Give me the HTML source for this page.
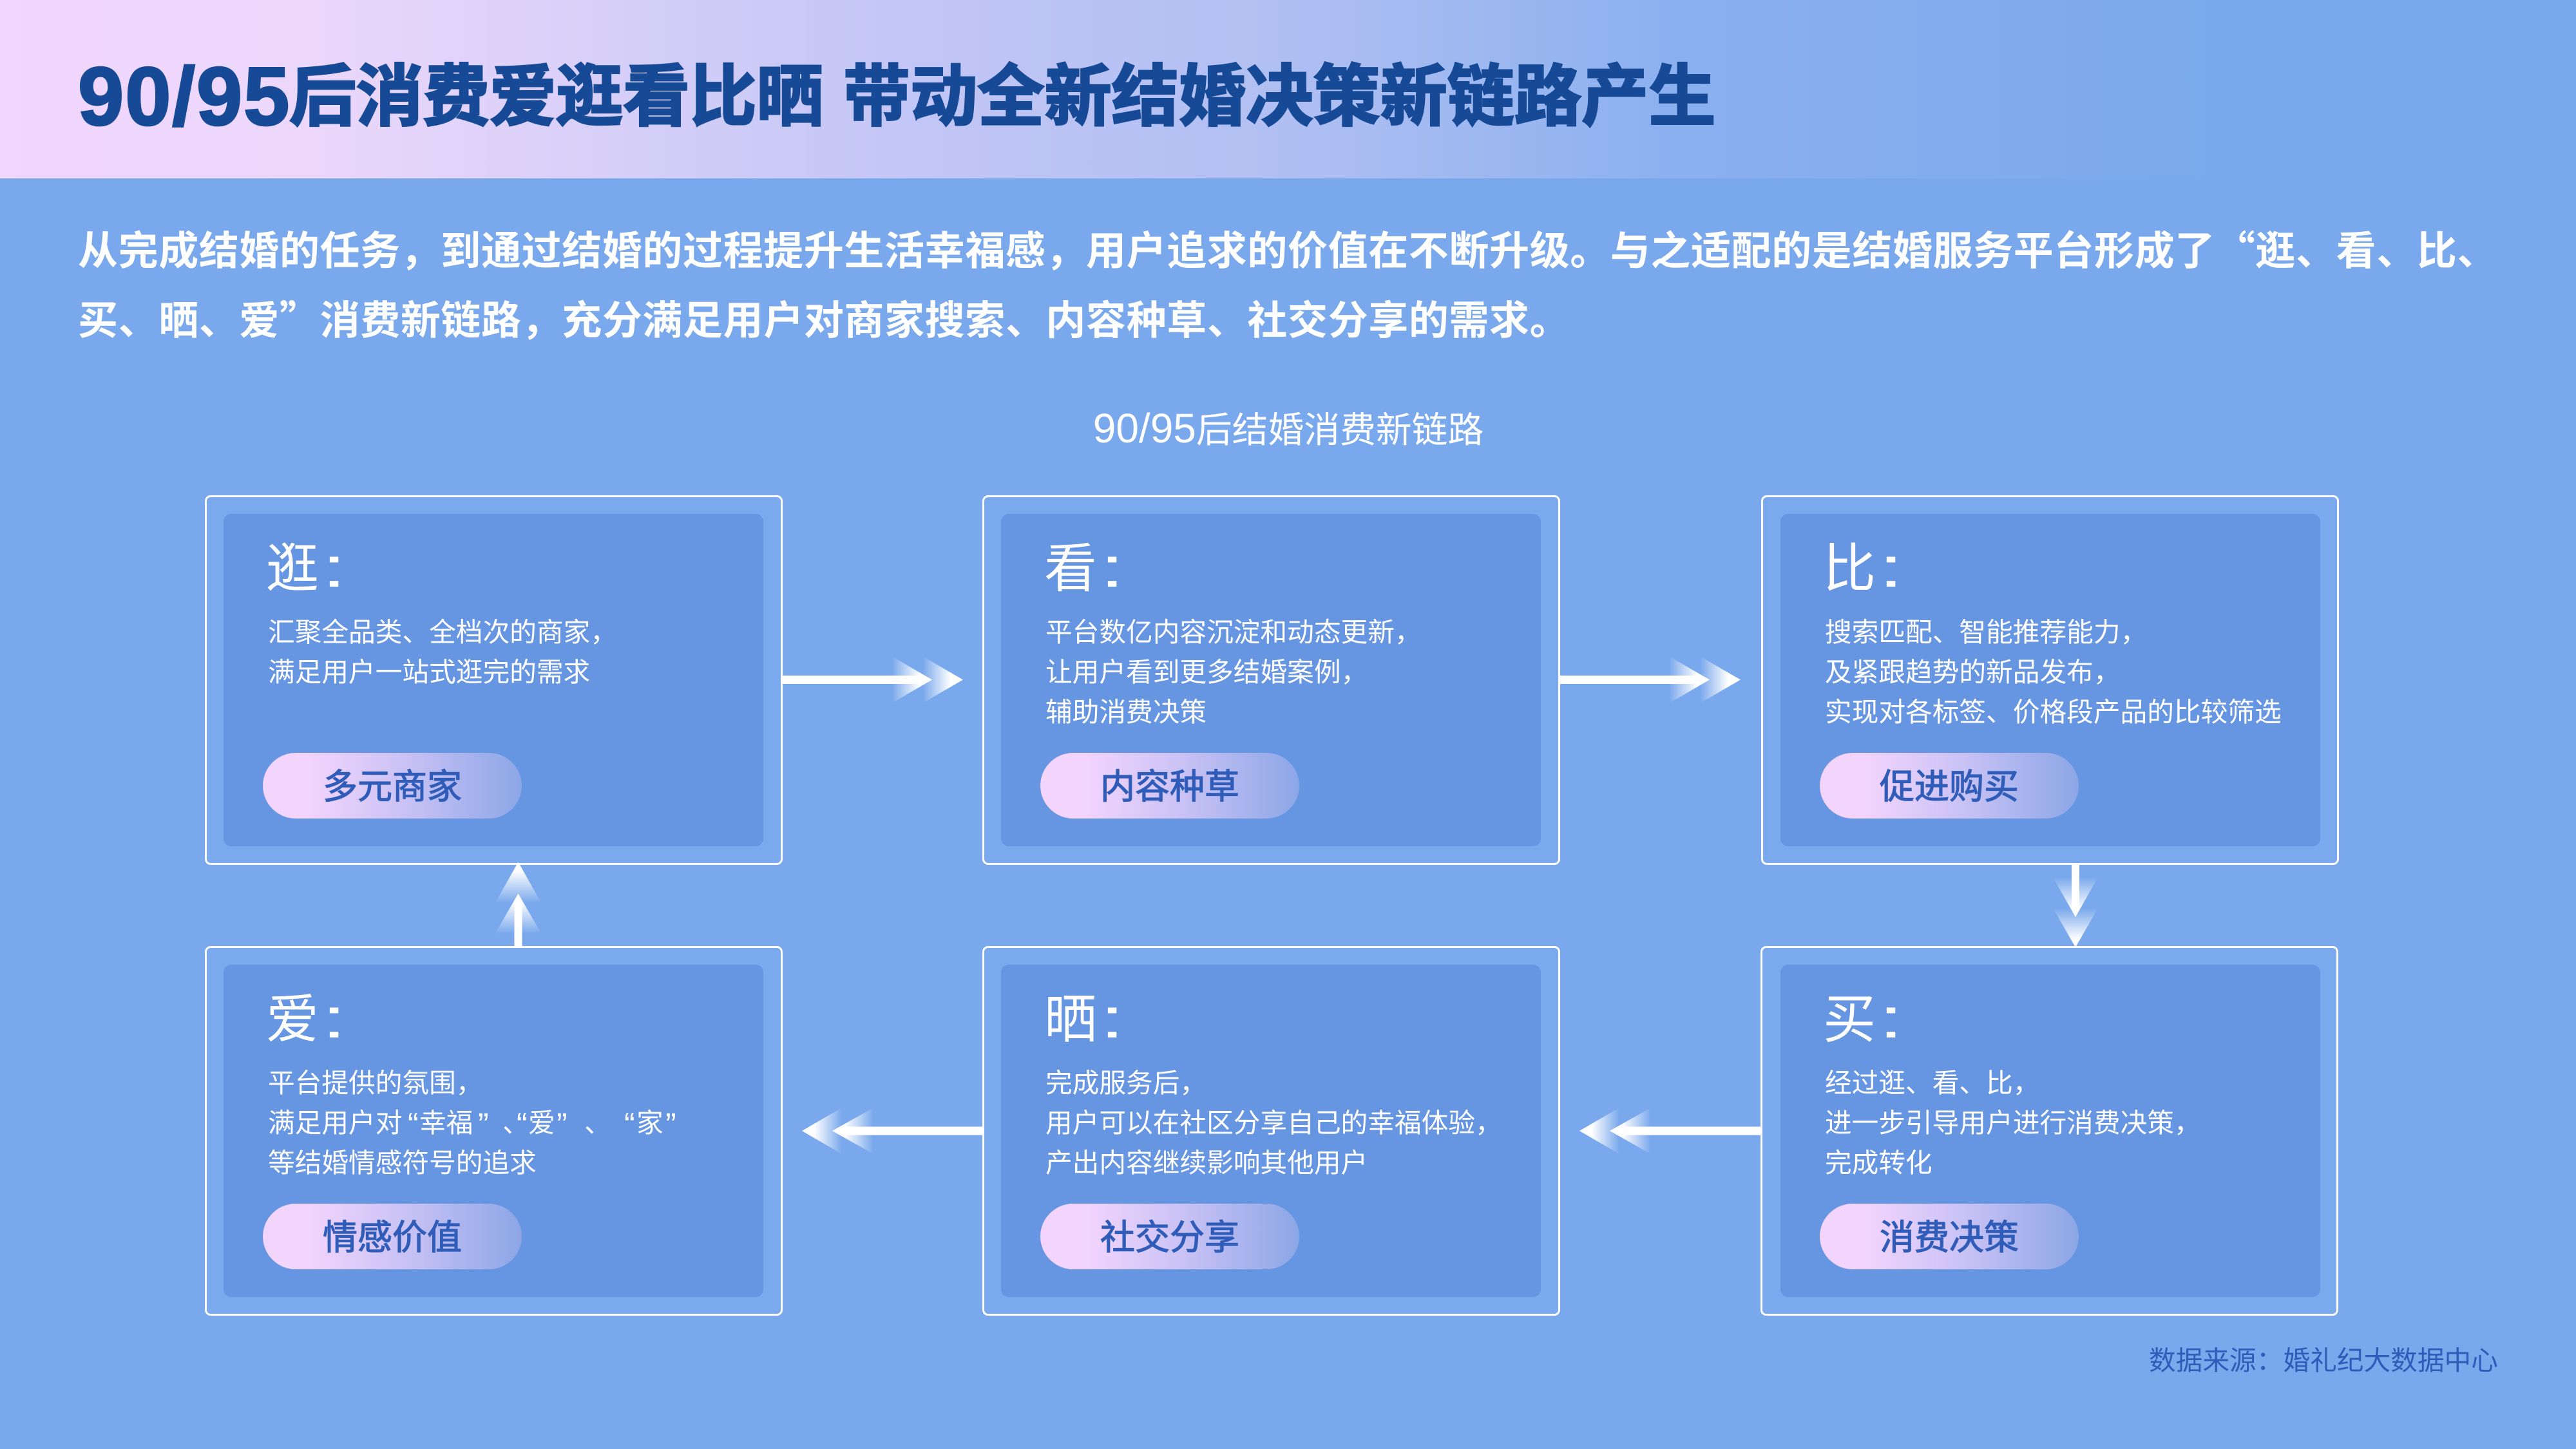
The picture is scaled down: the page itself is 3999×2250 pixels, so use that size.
<!DOCTYPE html>
<html lang="zh-CN">
<head>
<meta charset="utf-8">
<title>90/95后结婚消费新链路</title>
<style>
html,body{margin:0;padding:0;width:3999px;height:2250px;overflow:hidden;background:#79a8ec}
body{position:relative;font-family:"Liberation Sans","Noto Sans CJK SC",sans-serif;color:#fff}
div{position:absolute;box-sizing:border-box;white-space:nowrap}
#hdr{left:0;top:0;width:3999px;height:277px;background:linear-gradient(90deg,#f1d6fd 0%,#ecd7fb 12%,#d4cef8 25%,#c3c6f6 35%,#b0bff2 50%,#8bb0ef 65%,#79a8ec 87%)}
.title{top:86px;height:130px;line-height:130px;font-weight:700;color:#174a96;-webkit-text-stroke:3px #174a96;font-size:104px}
.p{left:121px;font-size:62px;line-height:108px;height:108px;font-weight:700;letter-spacing:.6px}
.q{font-family:"Noto Sans CJK SC",sans-serif}
.card{width:897px;height:574px;border:3.5px solid #fff;border-radius:9px;background:#7ba9ee}
.inner{width:838px;height:516px;background:#6695e2;border-radius:12px}
.h{font-size:82px;line-height:100px;height:100px}
.h span{display:inline-block;font-size:88px;line-height:90px;margin-left:4px;transform:scaleX(1.6);transform-origin:0 50%}
.b{font-size:41.7px;line-height:62px;height:62px}
.b span{position:absolute;top:0}
.b span.k{font-size:50px;top:2px}
.pill{width:402px;height:102px;border-radius:51px;background:linear-gradient(90deg,#f2d4fd 18%,#c9c2f5 55%,#8ca6e6 100%);color:#2e5cb8;font-size:54px;line-height:106px;text-align:center;-webkit-text-stroke:1.2px #2e5cb8}
</style>
</head>
<body>
<div id="hdr"></div>
<div class="title" style="left:121px;font-size:128px;letter-spacing:2px">90/95</div>
<div class="title" style="left:449px;letter-spacing:-.4px">后消费爱逛看比晒</div>
<div class="title" style="left:1309px;letter-spacing:.2px">带动全新结婚决策新链路产生</div>

<div class="p" style="top:330px">从完成结婚的任务，到通过结婚的过程提升生活幸福感，用户追求的价值在不断升级。与之适配的是结婚服务平台形成了<span class="q">“</span>逛、看、比、</div>
<div class="p" style="top:438px">买、晒、爱<span class="q">”</span>消费新链路，充分满足用户对商家搜索、内容种草、社交分享的需求。</div>
<div style="left:1500px;width:1000px;top:625px;height:80px;line-height:80px;text-align:center;font-size:55.8px"><span style="font-size:64px">90/95</span>后结婚消费新链路</div>

<!-- Row 1 -->
<div class="card" style="left:318px;top:769px"></div><div class="inner" style="left:347px;top:798px"></div>
<div class="card" style="left:1525px;top:769px"></div><div class="inner" style="left:1554px;top:798px"></div>
<div class="card" style="left:2734px;top:769px"></div><div class="inner" style="left:2764px;top:798px"></div>
<!-- Row 2 -->
<div class="card" style="left:318px;top:1469px"></div><div class="inner" style="left:347px;top:1498px"></div>
<div class="card" style="left:1525px;top:1469px"></div><div class="inner" style="left:1554px;top:1498px"></div>
<div class="card" style="left:2733px;top:1469px"></div><div class="inner" style="left:2764px;top:1498px"></div>

<div class="h" style="left:413px;top:834px">逛<span>:</span></div>
<div class="b" style="left:416px;top:951px">汇聚全品类、全档次的商家，</div>
<div class="b" style="left:416px;top:1013px">满足用户一站式逛完的需求</div>
<div class="pill" style="left:408px;top:1169px">多元商家</div>

<div class="h" style="left:1621px;top:834px">看<span>:</span></div>
<div class="b" style="left:1623px;top:951px">平台数亿内容沉淀和动态更新，</div>
<div class="b" style="left:1623px;top:1013px">让用户看到更多结婚案例，</div>
<div class="b" style="left:1623px;top:1075px">辅助消费决策</div>
<div class="pill" style="left:1615px;top:1169px">内容种草</div>

<div class="h" style="left:2830px;top:834px">比<span>:</span></div>
<div class="b" style="left:2833px;top:951px">搜索匹配、智能推荐能力，</div>
<div class="b" style="left:2833px;top:1013px">及紧跟趋势的新品发布，</div>
<div class="b" style="left:2833px;top:1075px">实现对各标签、价格段产品的比较筛选</div>
<div class="pill" style="left:2825px;top:1169px">促进购买</div>

<div class="h" style="left:413px;top:1534px">爱<span>:</span></div>
<div class="b" style="left:416px;top:1651px">平台提供的氛围，</div>
<div class="b" style="left:416px;top:1713px">满足用户对<span class="k" style="left:217px">“</span><span style="left:235px">幸福</span><span class="k" style="left:326px">”</span><span style="left:364px">、</span><span class="k" style="left:386px">“</span><span style="left:404px">爱</span><span class="k" style="left:448px">”</span><span style="left:491px">、</span><span class="k" style="left:553px">“</span><span style="left:572px">家</span><span class="k" style="left:617px">”</span></div>
<div class="b" style="left:416px;top:1775px">等结婚情感符号的追求</div>
<div class="pill" style="left:408px;top:1869px">情感价值</div>

<div class="h" style="left:1621px;top:1534px">晒<span>:</span></div>
<div class="b" style="left:1623px;top:1651px">完成服务后，</div>
<div class="b" style="left:1623px;top:1713px">用户可以在社区分享自己的幸福体验，</div>
<div class="b" style="left:1623px;top:1775px">产出内容继续影响其他用户</div>
<div class="pill" style="left:1615px;top:1869px">社交分享</div>

<div class="h" style="left:2830px;top:1534px">买<span>:</span></div>
<div class="b" style="left:2833px;top:1651px">经过逛、看、比，</div>
<div class="b" style="left:2833px;top:1713px">进一步引导用户进行消费决策，</div>
<div class="b" style="left:2833px;top:1775px">完成转化</div>
<div class="pill" style="left:2825px;top:1869px">消费决策</div>

<div style="left:3336px;top:2083px;height:60px;line-height:60px;font-size:41.7px;color:#2f5cb8">数据来源：婚礼纪大数据中心</div>

<svg width="3999" height="2250" viewBox="0 0 3999 2250" style="position:absolute;left:0;top:0">
<defs>
<linearGradient id="r" x1="0" y1="0" x2="1" y2="0"><stop offset="0" stop-color="#fff" stop-opacity="0"/><stop offset=".7" stop-color="#fff"/></linearGradient>
<linearGradient id="l" x1="1" y1="0" x2="0" y2="0"><stop offset="0" stop-color="#fff" stop-opacity="0"/><stop offset=".7" stop-color="#fff"/></linearGradient>
<linearGradient id="d" x1="0" y1="0" x2="0" y2="1"><stop offset="0" stop-color="#fff" stop-opacity="0"/><stop offset=".8" stop-color="#fff"/></linearGradient>
<linearGradient id="u" x1="0" y1="1" x2="0" y2="0"><stop offset="0" stop-color="#fff" stop-opacity="0"/><stop offset=".8" stop-color="#fff"/></linearGradient>
</defs>
<!-- right arrows -->
<rect x="1214" y="1049" width="220" height="13" fill="#fff"/>
<polygon points="1384,1019 1447,1055.5 1384,1092" fill="url(#r)"/>
<polygon points="1432,1019 1495,1055.5 1432,1092" fill="url(#r)"/>
<rect x="2421" y="1049" width="220" height="13" fill="#fff"/>
<polygon points="2591,1019 2654,1055.5 2591,1092" fill="url(#r)"/>
<polygon points="2639,1019 2702,1055.5 2639,1092" fill="url(#r)"/>
<!-- down -->
<rect x="3216" y="1342" width="12" height="70" fill="#fff"/>
<polygon points="3187,1362 3257,1362 3222,1424" fill="url(#d)"/>
<polygon points="3187,1410 3257,1410 3222,1471" fill="url(#d)"/>
<!-- up -->
<rect x="798.500" y="1400" width="12" height="69" fill="#fff"/>
<polygon points="768.500,1402.500 840.500,1402.500 804.500,1338.500" fill="url(#u)"/>
<polygon points="768.500,1450 840.500,1450 804.500,1387.500" fill="url(#u)"/>
<!-- left arrows -->
<rect x="1305" y="1749.500" width="221" height="13" fill="#fff"/>
<polygon points="1307,1720 1245,1756 1307,1792" fill="url(#l)"/>
<polygon points="1356,1720 1292,1756 1356,1792" fill="url(#l)"/>
<rect x="2512" y="1749.500" width="221" height="13" fill="#fff"/>
<polygon points="2514,1720 2452,1756 2514,1792" fill="url(#l)"/>
<polygon points="2563,1720 2499,1756 2563,1792" fill="url(#l)"/>
</svg>
</body>
</html>
